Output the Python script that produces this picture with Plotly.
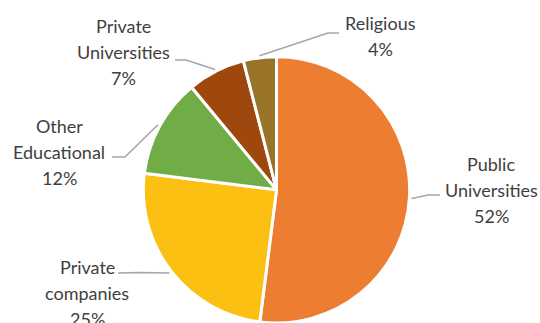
import math
import plotly.graph_objects as go

# Share of respondents by employer type
categories = ["Public Universities", "Private companies", "Other Educational",
              "Private Universities", "Religious"]
label_lines = [["Public", "Universities"], ["Private", "companies"],
               ["Other", "Educational"], ["Private", "Universities"], ["Religious"]]
shares = [52, 25, 12, 7, 4]
colors = ["#ED7D31", "#FBC012", "#70AD47", "#9E480E", "#997328"]

W, H = 540, 323
CX, CY, R = 276.5, 190.0, 133.3

# label block centres and leader-line knees / ends (pixel layout)
label_pos = [(491, 190), (87, 293), (59, 152), (123, 52), (380, 36)]
knees = [(428, 195), (140, 272.5), (125, 157), (186, 60), (328, 33)]
ends = [(440, 195), (118, 273), (112, 157), (175, 60), (339, 33)]

FONT = "Lato"
FS = 18
TXT = "#404040"


def px(x):
    return x / W


def py(y):
    return 1 - y / H


dom_y0 = max(0.0, py(CY + R))
dom_y1 = min(1.0, py(CY - R))

fig = go.Figure(go.Pie(
    labels=categories,
    values=shares,
    sort=False,
    direction="clockwise",
    rotation=0,
    textinfo="none",
    hoverinfo="label+percent",
    marker=dict(colors=colors, line=dict(color="white", width=3)),
    domain=dict(x=[px(CX - R), px(CX + R)], y=[dom_y0, dom_y1]),
    showlegend=False,
))

total = sum(shares)
cum = 0
shapes = []
annotations = []
for name, lines, val, (lx, ly), (kx, ky), (ex, ey) in zip(
        categories, label_lines, shares, label_pos, knees, ends):
    mid = (cum + val / 2) / total * 2 * math.pi
    cum += val
    ax = CX + (R + 2) * math.sin(mid)
    ay = CY - (R + 2) * math.cos(mid)
    shapes.append(dict(
        type="path", xref="paper", yref="paper",
        path=f"M {px(ax)},{py(ay)} L {px(kx)},{py(ky)} L {px(ex)},{py(ey)}",
        line=dict(color="#A6A6A6", width=1.5),
    ))
    pct = round(val / total * 100)
    text_lines = lines + [f"{pct}%"]
    n = len(text_lines)
    spacing = 26
    for i, t in enumerate(text_lines):
        yy = ly + (i - (n - 1) / 2) * spacing
        annotations.append(dict(
            x=px(lx), y=py(yy), xref="paper", yref="paper",
            text=t, showarrow=False, xanchor="center", yanchor="middle",
            font=dict(family=FONT, size=FS, color=TXT),
        ))

fig.update_layout(
    width=W, height=H,
    margin=dict(l=0, r=0, t=0, b=0),
    paper_bgcolor="white",
    plot_bgcolor="white",
    shapes=shapes,
    annotations=annotations,
)

fig.write_html("out.html")
